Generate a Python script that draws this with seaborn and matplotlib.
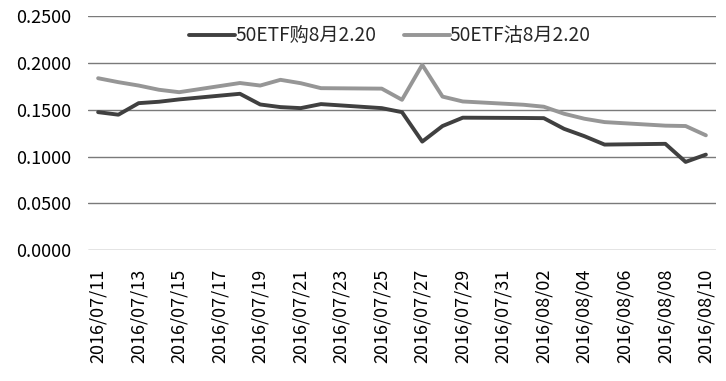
import matplotlib
matplotlib.use("Agg")
import matplotlib.pyplot as plt
import seaborn as sns
import pandas as pd

dates = ["2016-07-11", "2016-07-12", "2016-07-13", "2016-07-14", "2016-07-15",
         "2016-07-18", "2016-07-19", "2016-07-20", "2016-07-21", "2016-07-22",
         "2016-07-25", "2016-07-26", "2016-07-27", "2016-07-28", "2016-07-29",
         "2016-08-01", "2016-08-02", "2016-08-03", "2016-08-04", "2016-08-05",
         "2016-08-08", "2016-08-09", "2016-08-10"]
call_vals = [0.1474, 0.1447, 0.1570, 0.1585, 0.1610,
             0.1670, 0.1556, 0.1528, 0.1517, 0.1560,
             0.1517, 0.1474, 0.1160, 0.1326, 0.1415,
             0.1412, 0.1410, 0.1296, 0.1218, 0.1128,
             0.1136, 0.0943, 0.1021]
put_vals = [0.1836, 0.1794, 0.1758, 0.1713, 0.1687,
            0.1785, 0.1758, 0.1819, 0.1783, 0.1730,
            0.1725, 0.1606, 0.1979, 0.1640, 0.1588,
            0.1553, 0.1532, 0.1457, 0.1404, 0.1368,
            0.1330, 0.1326, 0.1227]
series_names = ["50ETF购8月2.20", "50ETF沽8月2.20"]
y_ticks = [0.0, 0.05, 0.10, 0.15, 0.20, 0.25]

df = pd.DataFrame({
    "date": pd.to_datetime(dates * 2),
    "value": call_vals + put_vals,
    "series": [series_names[0]] * len(dates) + [series_names[1]] * len(dates),
})

sns.set_theme(style="white")
plt.rcParams["font.family"] = ["Noto Sans CJK SC", "DejaVu Sans"]

fig = plt.figure(figsize=(7.26, 3.81), dpi=100)
ax = fig.add_axes([88 / 726, 1 - 250.3 / 381, (716 - 88) / 726, (250.3 - 16) / 381])

sns.lineplot(data=df, x="date", y="value", hue="series",
             palette=["#404040", "#969696"], linewidth=2.8, ax=ax,
             estimator=None, sort=True)

ax.set_ylim(0, 0.25)
ax.set_yticks(y_ticks)
ax.set_yticklabels([f"{v:.4f}" for v in y_ticks])
start = pd.Timestamp(dates[0]) - pd.Timedelta(hours=12)
end = pd.Timestamp(dates[-1]) + pd.Timedelta(hours=12)
ax.set_xlim(start, end)
xt = pd.date_range(dates[0], dates[-1], freq="2D")
ax.set_xticks(xt)
ax.set_xticklabels([d.strftime("%Y/%m/%d") for d in xt], rotation=90)

ax.grid(axis="y", color="#7a7a7a", linewidth=1.0)
ax.grid(axis="x", visible=False)
for s in ax.spines.values():
    s.set_visible(False)
ax.tick_params(axis="both", length=0, labelsize=13, colors="black")
ax.tick_params(axis="x", pad=13)
ax.tick_params(axis="y", pad=12)
ax.set_xlabel("")
ax.set_ylabel("")

ax.legend(loc="center", bbox_to_anchor=(0.481, 0.915), ncol=2, frameon=False,
          fontsize=13.8, handlelength=2.4, handletextpad=0.0, columnspacing=1.45,
          borderaxespad=0)

fig.savefig("out.png", dpi=100)
